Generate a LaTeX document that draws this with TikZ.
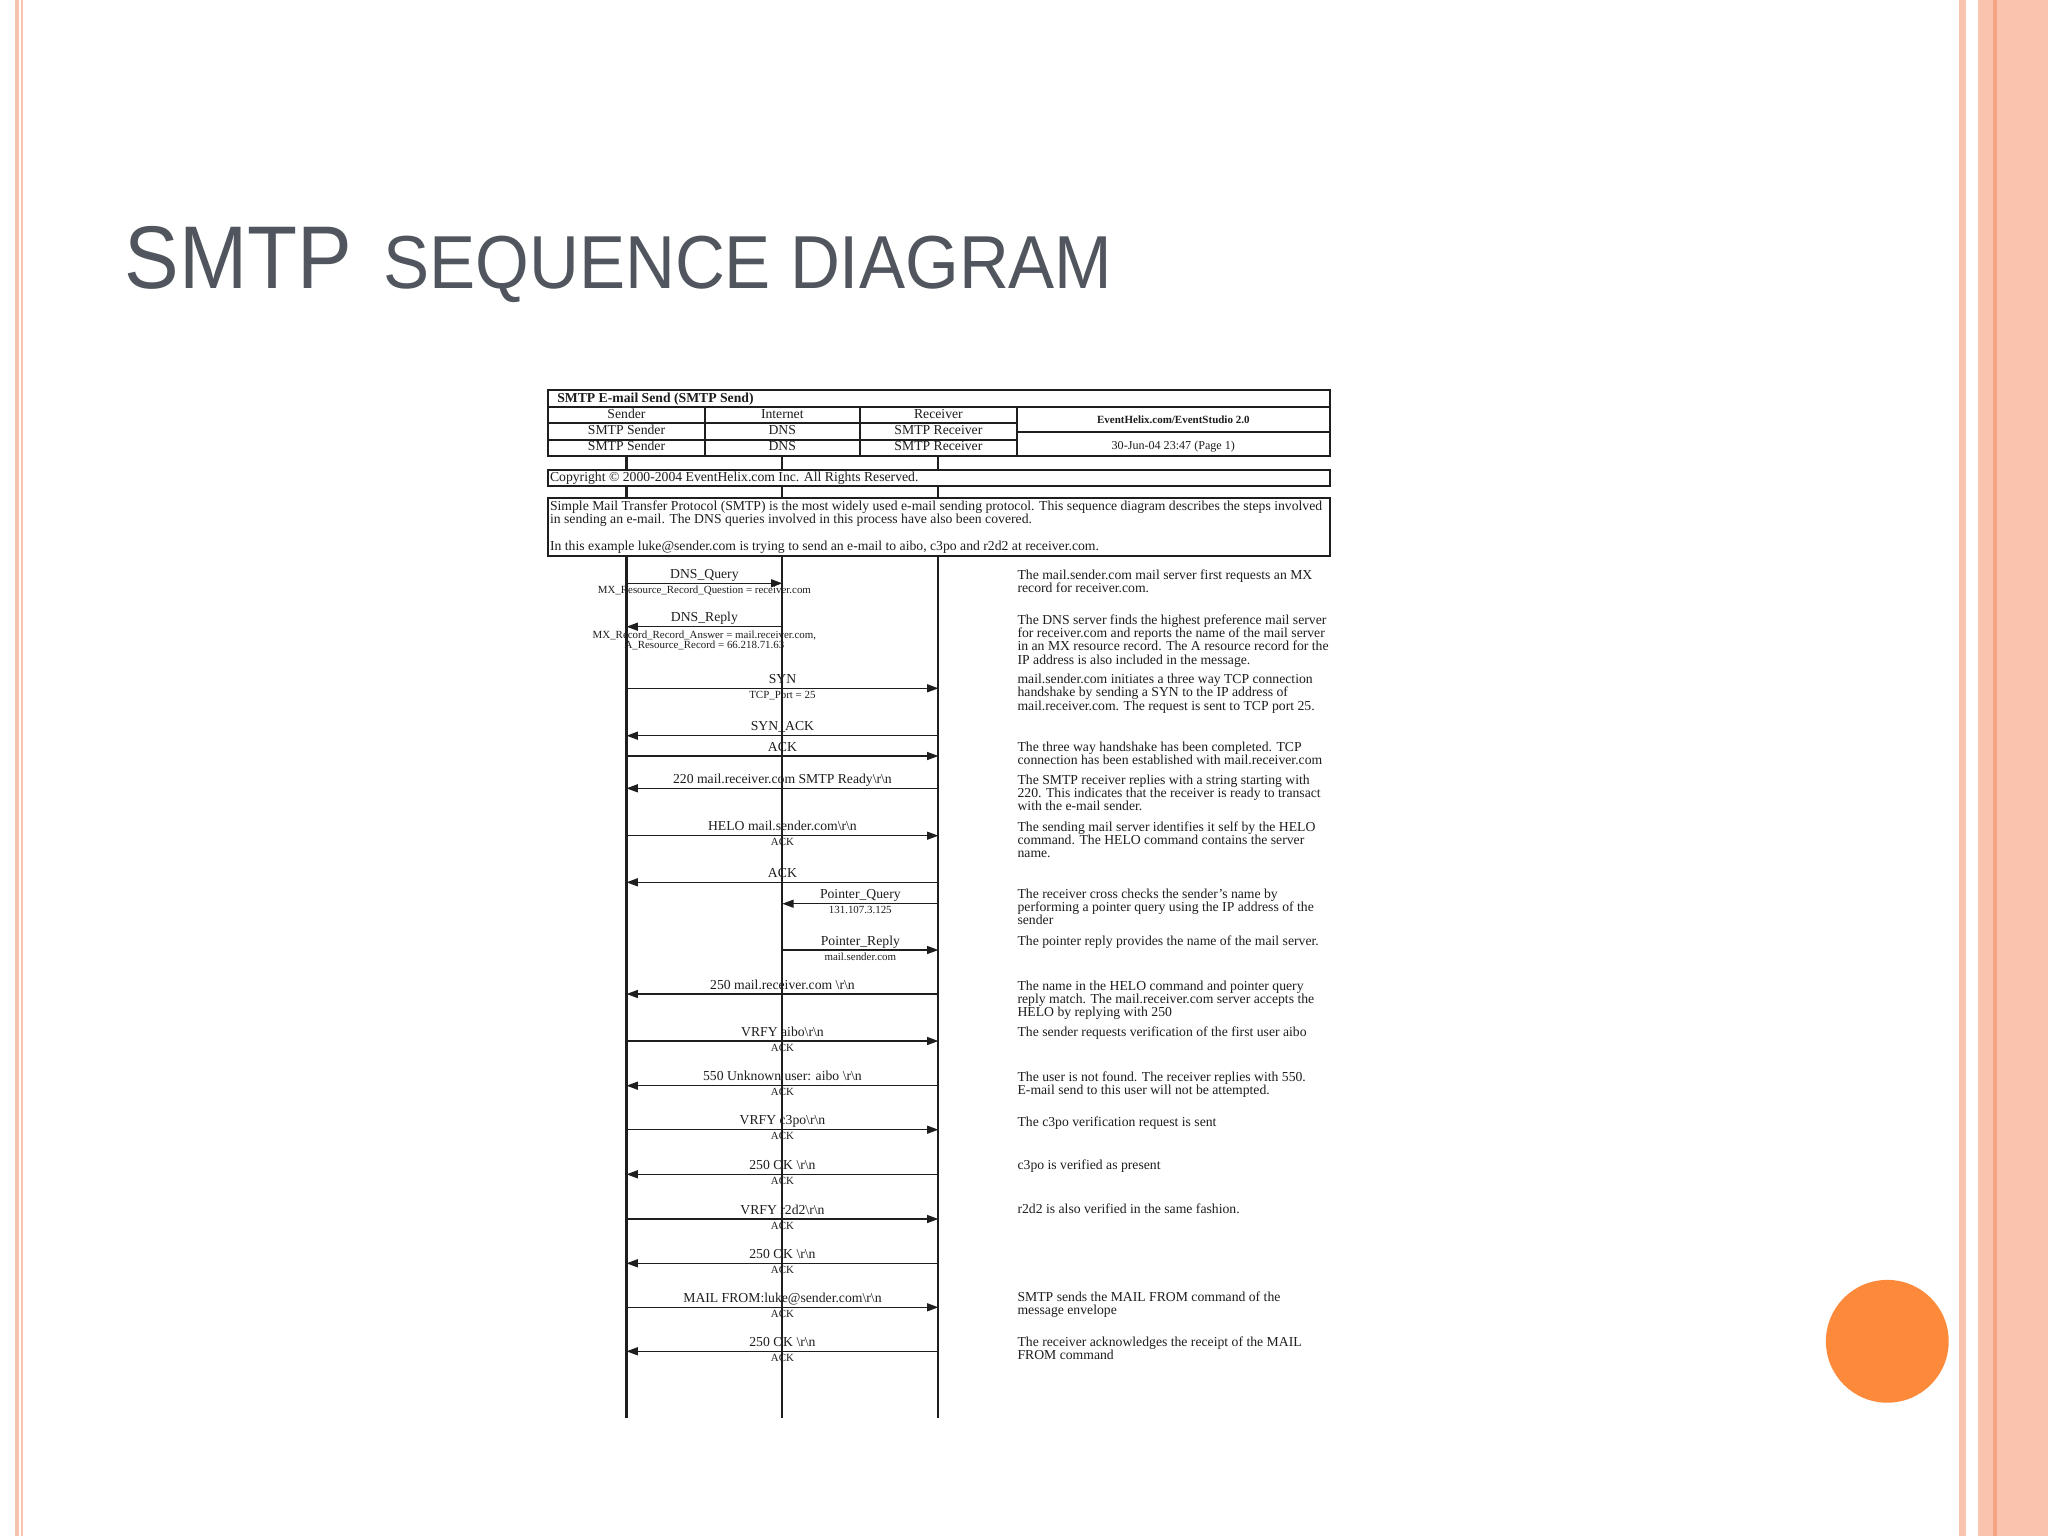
\documentclass[tikz,border=0pt]{standalone}
\usepackage{fontspec}
\setmainfont{Liberation Serif}
\newfontfamily\titlefont[FakeStretch=0.92]{Liberation Sans}
\usetikzlibrary{arrows.meta}
\definecolor{titlegray}{HTML}{50555E}
\definecolor{salmon}{HTML}{F9C3AE}
\definecolor{deepsalmon}{HTML}{F4A584}
\definecolor{dotorange}{HTML}{FD8A3B}
\definecolor{ink}{HTML}{1E1E1E}
\newcommand{\crlf}{\textbackslash r\textbackslash n}
\newcommand{\xS}{626.5}
\newcommand{\xI}{782.3}
\newcommand{\xR}{938.4}
\tikzset{
  frame/.style={draw=ink,line width=0.6pt},
  life/.style={draw=ink,line width=0.75pt},
  msgarrow/.style={draw=ink,line width=0.55pt,-{Triangle[length=4pt,width=2.8pt]}},
  lbl/.style={inner sep=0pt,anchor=base,text=ink,font=\fontsize{4.87pt}{4.73pt}\selectfont},
  sublbl/.style={inner sep=0pt,anchor=base,text=ink,align=center,font=\fontsize{3.88pt}{3.56pt}\selectfont},
  note/.style={inner sep=0pt,anchor=base west,align=left,text=ink,font=\fontsize{4.87pt}{4.73pt}\selectfont},
  hdr/.style={inner sep=0pt,anchor=base,text=ink,font=\fontsize{4.87pt}{4.73pt}\selectfont},
}
\newcommand{\seqmsg}[5]{%
  \coordinate (#1-from) at (#2,#4);
  \coordinate (#1-to) at (#3,#4);
  \draw[msgarrow] (#1-from) -- (#1-to);
  \node[lbl] (#1-lbl) at ({(#2+#3)/2},{#4-5}) {#5};}
\newcommand{\seqsub}[4]{%
  \node[sublbl] (#1-sub) at (#2,{#3+10}) {#4};}
\begin{document}
\begin{tikzpicture}[x=0.0125cm,y=-0.0125cm]
\useasboundingbox (0,0) rectangle (2048,1536);
\fill[white] (0,0) rectangle (2048,1536);
% slide decorations
\fill[salmon] (15,0) rectangle (19,1536);
\fill[salmon] (21,0) rectangle (23,1536);
\fill[salmon] (1959,0) rectangle (1966,1536);
\fill[salmon] (1978,0) rectangle (2048,1536);
\fill[deepsalmon] (1993,0) rectangle (1997,1536);
\fill[dotorange] (1887.3,1341.3) circle (61.4);
% title
\node[inner sep=0pt,anchor=base west,text=titlegray,font=\titlefont\fontsize{31.65pt}{34pt}\selectfont] (t1) at (124,288.6) {SMTP};
\node[inner sep=0pt,anchor=base west,text=titlegray,font=\titlefont\fontsize{26.7pt}{30pt}\selectfont] (t2) at (382.7,288.6) {SEQUENCE DIAGRAM};
% header table
\draw[frame] (548,390) rectangle (1330,456);
\draw[frame] (548,406.7) -- (1330,406.7);
\draw[frame] (548,423) -- (1016.7,423);
\draw[frame] (548,440) -- (1016.7,440);
\draw[frame] (1016.7,431.7) -- (1330,431.7);
\draw[frame] (705,406.7) -- (705,456);
\draw[frame] (860,406.7) -- (860,456);
\draw[frame] (1016.7,406.7) -- (1016.7,456);
\node[hdr,anchor=base west,font=\bfseries\fontsize{4.87pt}{4.73pt}\selectfont] (h0) at (556.7,402.5) {SMTP E-mail Send (SMTP Send)};
\node[hdr] (h1) at (\xS,418.5) {Sender};
\node[hdr] (h2) at (\xI,418.5) {Internet};
\node[hdr] (h3) at (\xR,418.5) {Receiver};
\node[hdr] (h4) at (\xS,434.5) {SMTP Sender};
\node[hdr] (h5) at (\xI,434.5) {DNS};
\node[hdr] (h6) at (\xR,434.5) {SMTP Receiver};
\node[hdr] (h7) at (\xS,450.5) {SMTP Sender};
\node[hdr] (h8) at (\xI,450.5) {DNS};
\node[hdr] (h9) at (\xR,450.5) {SMTP Receiver};
\node[hdr,font=\bfseries\fontsize{3.91pt}{4pt}\selectfont] (h10) at (1173.3,423.5) {EventHelix.com/EventStudio 2.0};
\node[hdr,font=\fontsize{4.3pt}{4.3pt}\selectfont] (h11) at (1173.3,449.5) {30-Jun-04 23:47 (Page 1)};
% copyright box
\draw[frame] (548,470) rectangle (1330,486);
\node[hdr,anchor=base west] (cp) at (549.5,481.5) {Copyright \textcopyright{} 2000-2004 EventHelix.com Inc. All Rights Reserved.};
% description box
\draw[frame] (548,498) rectangle (1330,556);
\node[hdr,anchor=base west] (d1) at (549.5,510.5) {Simple Mail Transfer Protocol (SMTP) is the most widely used e-mail sending protocol. This sequence diagram describes the steps involved};
\node[hdr,anchor=base west] (d2) at (549.5,523.5) {in sending an e-mail. The DNS queries involved in this process have also been covered.};
\node[hdr,anchor=base west] (d3) at (549.5,550) {In this example luke@sender.com is trying to send an e-mail to aibo, c3po and r2d2 at receiver.com.};
% lifelines
\foreach \lx/\ln in {\xS/s,\xI/i,\xR/r}{
  \coordinate (\ln a) at (\lx,456);
  \coordinate (\ln b) at (\lx,470);
  \coordinate (\ln c) at (\lx,486);
  \coordinate (\ln d) at (\lx,498);
  \coordinate (\ln e) at (\lx,556);
  \coordinate (\ln f) at (\lx,1418.3);
  \draw[life] (\ln a) -- (\ln b);
  \draw[life] (\ln c) -- (\ln d);
  \draw[life] (\ln e) -- (\ln f);
}
% messages
\seqmsg{m1}{\xS}{\xI}{583.3}{DNS\_Query}
\seqsub{m1}{704.4}{583.3}{MX\_Resource\_Record\_Question = receiver.com}
\seqmsg{m2}{\xI}{\xS}{626.7}{DNS\_Reply}
\node[sublbl] (m2-sub) at (704.4,648.7) {MX\_Record\_Record\_Answer = mail.receiver.com,\\A\_Resource\_Record = 66.218.71.63};
\seqmsg{m3}{\xS}{\xR}{688.3}{SYN}
\seqsub{m3}{782.4}{688.3}{TCP\_Port = 25}
\seqmsg{m4}{\xR}{\xS}{735.7}{SYN\_ACK}
\seqmsg{m5}{\xS}{\xR}{756}{ACK}
\seqmsg{m6}{\xR}{\xS}{788.3}{220 mail.receiver.com SMTP Ready\crlf}
\seqmsg{m7}{\xS}{\xR}{835.7}{HELO mail.sender.com\crlf}
\seqsub{m7}{782.4}{835.7}{ACK}
\seqmsg{m8}{\xR}{\xS}{882.3}{ACK}
\seqmsg{m9}{\xR}{\xI}{903.7}{Pointer\_Query}
\seqsub{m9}{860.3}{903.7}{131.107.3.125}
\seqmsg{m10}{\xI}{\xR}{950}{Pointer\_Reply}
\seqsub{m10}{860.3}{950}{mail.sender.com}
\seqmsg{m11}{\xR}{\xS}{994}{250 mail.receiver.com \crlf}
\seqmsg{m12}{\xS}{\xR}{1041}{VRFY aibo\crlf}
\seqsub{m12}{782.4}{1041}{ACK}
\seqmsg{m13}{\xR}{\xS}{1085.7}{550 Unknown user: aibo \crlf}
\seqsub{m13}{782.4}{1085.7}{ACK}
\seqmsg{m14}{\xS}{\xR}{1129.7}{VRFY c3po\crlf}
\seqsub{m14}{782.4}{1129.7}{ACK}
\seqmsg{m15}{\xR}{\xS}{1174.3}{250 OK \crlf}
\seqsub{m15}{782.4}{1174.3}{ACK}
\seqmsg{m16}{\xS}{\xR}{1219}{VRFY r2d2\crlf}
\seqsub{m16}{782.4}{1219}{ACK}
\seqmsg{m17}{\xR}{\xS}{1263.3}{250 OK \crlf}
\seqsub{m17}{782.4}{1263.3}{ACK}
\seqmsg{m18}{\xS}{\xR}{1307.3}{MAIL FROM:luke@sender.com\crlf}
\seqsub{m18}{782.4}{1307.3}{ACK}
\seqmsg{m19}{\xR}{\xS}{1351.3}{250 OK \crlf}
\seqsub{m19}{782.4}{1351.3}{ACK}
% notes (base anchor = baseline of last line)
\node[note] (n1) at (1017,592.6) {The mail.sender.com mail server first requests an MX\\record for receiver.com.};
\node[note] (n2) at (1017,664.2) {The DNS server finds the highest preference mail server\\for receiver.com and reports the name of the mail server\\in an MX resource record. The A resource record for the\\IP address is also included in the message.};
\node[note] (n3) at (1017,710.2) {mail.sender.com initiates a three way TCP connection\\handshake by sending a SYN to the IP address of\\mail.receiver.com. The request is sent to TCP port 25.};
\node[note] (n4) at (1017,764.6) {The three way handshake has been completed. TCP\\connection has been established with mail.receiver.com};
\node[note] (n5) at (1017,810.9) {The SMTP receiver replies with a string starting with\\220. This indicates that the receiver is ready to transact\\with the e-mail sender.};
\node[note] (n6) at (1017,857.6) {The sending mail server identifies it self by the HELO\\command. The HELO command contains the server\\name.};
\node[note] (n7) at (1017,924.9) {The receiver cross checks the sender's name by\\performing a pointer query using the IP address of the\\sender};
\node[note] (n8) at (1017,945.3) {The pointer reply provides the name of the mail server.};
\node[note] (n9) at (1017,1016.6) {The name in the HELO command and pointer query\\reply match. The mail.receiver.com server accepts the\\HELO by replying with 250};
\node[note] (n10) at (1017,1036.6) {The sender requests verification of the first user aibo};
\node[note] (n11) at (1017,1094.3) {The user is not found. The receiver replies with 550.\\E-mail send to this user will not be attempted.};
\node[note] (n12) at (1017,1126.6) {The c3po verification request is sent};
\node[note] (n13) at (1017,1169.3) {c3po is verified as present};
\node[note] (n14) at (1017,1213.3) {r2d2 is also verified in the same fashion.};
\node[note] (n15) at (1017,1314.6) {SMTP sends the MAIL FROM command of the\\message envelope};
\node[note] (n16) at (1017,1359.6) {The receiver acknowledges the receipt of the MAIL\\FROM command};
\end{tikzpicture}
\end{document}
